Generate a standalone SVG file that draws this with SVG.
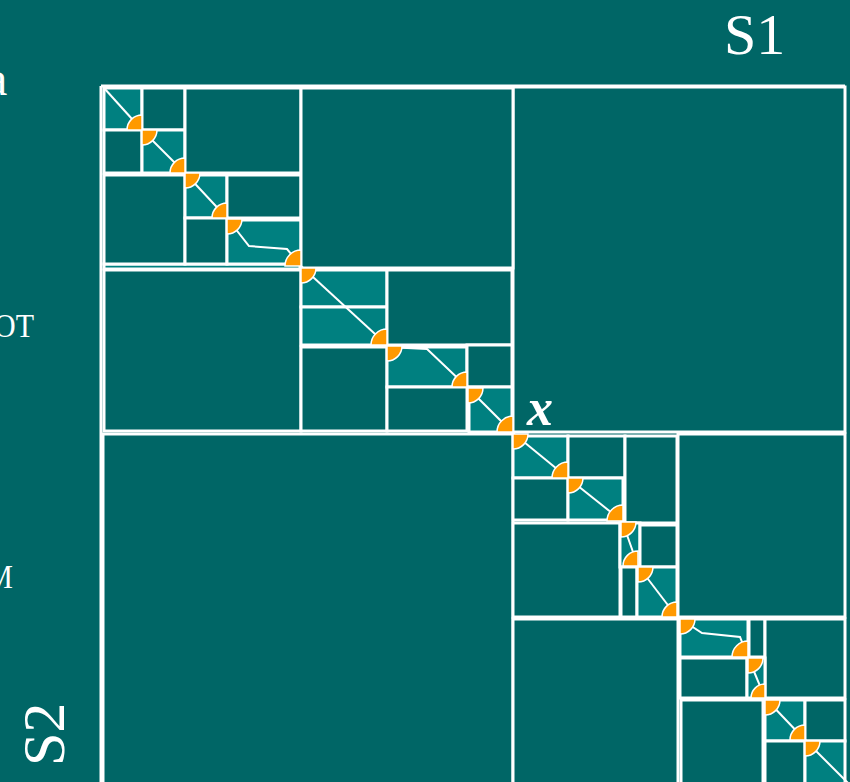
<svg xmlns="http://www.w3.org/2000/svg" width="850" height="782" viewBox="0 0 850 782">
<style>
.d{fill:#006666;stroke:#fff;stroke-width:3}
.t{fill:#008080;stroke:#fff;stroke-width:3}
.p{fill:none;stroke:#fff;stroke-width:2}
.o{fill:#FF9900;stroke:#fff;stroke-width:1.5}
.lbl{fill:#fff;font-family:"Liberation Serif","Times New Roman",serif}
</style>
<rect width="850" height="782" fill="#006666"/>
<g id="frame">
<line x1="101" y1="86" x2="101" y2="782" stroke="#fff" stroke-width="3"/>
<line x1="101" y1="86" x2="845" y2="86" stroke="#fff" stroke-width="3"/>
</g>
<g id="cells">
<rect class="d" x="513" y="87" width="332" height="345"/>
<rect class="d" x="103" y="434" width="410" height="350"/>
<rect class="t" x="104" y="264" width="196" height="5"/>
<rect class="t" x="104" y="88" width="38" height="42"/>
<rect class="d" x="142" y="88" width="43" height="42"/>
<rect class="d" x="104" y="130" width="38" height="43"/>
<rect class="t" x="142" y="130" width="43" height="43"/>
<rect class="d" x="185" y="88" width="116" height="85"/>
<rect class="d" x="104" y="175" width="81" height="89"/>
<rect class="t" x="185" y="175" width="42" height="43"/>
<rect class="d" x="227" y="175" width="74" height="43"/>
<rect class="d" x="185" y="218" width="42" height="46"/>
<rect class="t" x="227" y="220" width="74" height="44"/>
<rect class="d" x="301" y="88" width="212" height="180"/>
<rect class="d" x="104" y="270" width="197" height="161"/>
<rect class="t" x="301" y="270" width="86" height="37"/>
<rect class="t" x="301" y="307" width="86" height="38"/>
<rect class="d" x="387" y="270" width="125" height="75"/>
<rect class="d" x="301" y="347" width="86" height="84"/>
<rect class="t" x="387" y="347" width="80" height="40"/>
<rect class="d" x="467" y="345" width="45" height="42"/>
<rect class="d" x="387" y="387" width="80" height="44"/>
<rect class="t" x="469" y="387" width="43" height="45"/>
<rect class="t" x="513" y="436" width="55" height="42"/>
<rect class="d" x="568" y="436" width="57" height="42"/>
<rect class="d" x="513" y="478" width="55" height="42"/>
<rect class="t" x="568" y="478" width="55" height="42"/>
<rect class="d" x="625" y="436" width="52" height="87"/>
<rect class="d" x="513" y="523" width="107" height="94"/>
<rect class="t" x="620" y="523" width="20" height="44"/>
<rect class="d" x="640" y="525" width="37" height="42"/>
<rect class="d" x="621" y="567" width="16" height="50"/>
<rect class="t" x="637" y="567" width="40" height="50"/>
<rect class="d" x="678" y="434" width="167" height="183"/>
<rect class="d" x="513" y="619" width="165" height="165"/>
<rect class="t" x="680" y="619" width="68" height="38"/>
<rect class="d" x="749" y="619" width="16" height="38"/>
<rect class="d" x="765" y="619" width="80" height="79"/>
<rect class="d" x="680" y="658" width="67" height="40"/>
<rect class="t" x="747" y="658" width="18" height="40"/>
<rect class="d" x="681" y="700" width="82" height="84"/>
<rect class="t" x="765" y="700" width="40" height="41"/>
<rect class="d" x="805" y="700" width="40" height="41"/>
<rect class="d" x="765" y="741" width="40" height="43"/>
<rect class="t" x="805" y="741" width="40" height="43"/>
</g>
<g id="connectors">
<path class="p" d="M104,88 L142,130"/>
<path class="p" d="M142,130 L185,173"/>
<path class="p" d="M185,173 L227,218"/>
<path class="p" d="M227,218 L249,246 L287,249 L301,266"/>
<path class="p" d="M301,266 L387,345"/>
<path class="p" d="M387,347 L427,349 L467,387"/>
<path class="p" d="M467,387 L513,433"/>
<path class="p" d="M513,433 L568,478"/>
<path class="p" d="M568,478 L622,521"/>
<path class="p" d="M622,521 L638,566"/>
<path class="p" d="M638,566 L677,617"/>
<path class="p" d="M679,618 L702,633 L740,637 L748,657"/>
<path class="p" d="M748,657 L765,698"/>
<path class="p" d="M765,698 L805,740"/>
<path class="p" d="M805,740 L850,785"/>
</g>
<g id="joints">
<path class="o" d="M142,130 h-15 a15,15 0 0 1 15,-15 Z M142,130 h15 a15,15 0 0 1 -15,15 Z"/>
<path class="o" d="M185,173 h-15 a15,15 0 0 1 15,-15 Z M185,173 h15 a15,15 0 0 1 -15,15 Z"/>
<path class="o" d="M227,218 h-15 a15,15 0 0 1 15,-15 Z M227,219 h15 a15,15 0 0 1 -15,15 Z"/>
<path class="o" d="M301,266 h-16 a16,16 0 0 1 16,-16 Z M301,268 h15 a15,15 0 0 1 -15,15 Z"/>
<path class="o" d="M387,345 h-16 a16,16 0 0 1 16,-16 Z M387,346 h15 a15,15 0 0 1 -15,15 Z"/>
<path class="o" d="M467,387 h-15 a15,15 0 0 1 15,-15 Z M468,388 h15 a15,15 0 0 1 -15,15 Z"/>
<path class="o" d="M513,432 h-16 a16,16 0 0 1 16,-16 Z M513,434 h15 a15,15 0 0 1 -15,15 Z"/>
<path class="o" d="M568,478 h-16 a16,16 0 0 1 16,-16 Z M568,478 h15 a15,15 0 0 1 -15,15 Z"/>
<path class="o" d="M623,521 h-16 a16,16 0 0 1 16,-16 Z M621,522 h15 a15,15 0 0 1 -15,15 Z"/>
<path class="o" d="M638,566 h-15 a15,15 0 0 1 15,-15 Z M638,567 h15 a15,15 0 0 1 -15,15 Z"/>
<path class="o" d="M677,617 h-15 a15,15 0 0 1 15,-15 Z M680,619 h15 a15,15 0 0 1 -15,15 Z"/>
<path class="o" d="M748,657 h-16 a16,16 0 0 1 16,-16 Z M748,658 h15 a15,15 0 0 1 -15,15 Z"/>
<path class="o" d="M765,698 h-14 a14,14 0 0 1 14,-14 Z M765,700 h15 a15,15 0 0 1 -15,15 Z"/>
<path class="o" d="M805,740 h-15 a15,15 0 0 1 15,-15 Z M805,741 h15 a15,15 0 0 1 -15,15 Z"/>
</g>
<g id="labels">
<text class="lbl" x="724" y="54" font-size="58">S1</text>
<text class="lbl" transform="translate(64,766) rotate(-90)" font-size="60">S2</text>
<text class="lbl" x="527" y="425" font-size="52" font-weight="bold" font-style="italic">x</text>
<text class="lbl" x="-14" y="95" font-size="48">a</text>
<text class="lbl" transform="translate(34,337) scale(1,1.12)" font-size="30" text-anchor="end">OT</text>
<text class="lbl" transform="translate(13,588) scale(1,1.12)" font-size="30" text-anchor="end">M</text>
</g>
</svg>
